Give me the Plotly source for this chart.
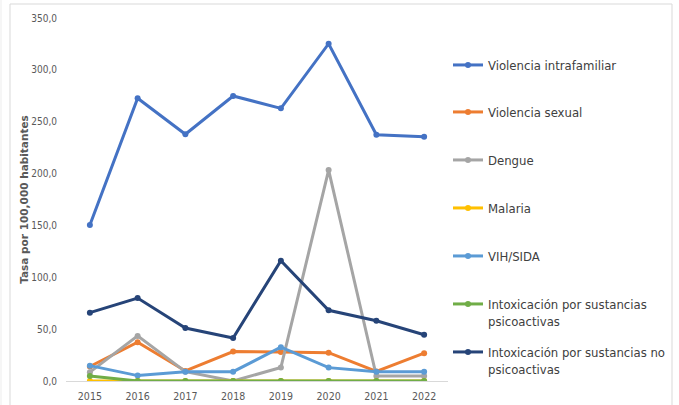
import plotly.graph_objects as go

years = ["2015", "2016", "2017", "2018", "2019", "2020", "2021", "2022"]

violencia_intrafamiliar = [150.4, 272.6, 237.9, 274.8, 262.9, 325.2, 237.5, 235.6]
violencia_sexual = [14.0, 37.4, 9.7, 28.4, 28.0, 27.3, 9.2, 26.8]
dengue = [8.5, 43.5, 9.0, 0.0, 13.0, 203.4, 4.8, 4.8]
malaria = [0.0, 0.0, 0.0, 0.0, 0.0, 0.0, 0.0, 0.0]
vih_sida = [14.8, 5.2, 9.0, 9.0, 32.6, 12.9, 9.0, 9.0]
intox_psicoactivas = [4.8, 0.0, 0.0, 0.0, 0.0, 0.0, 0.0, 0.0]
intox_no_psicoactivas = [65.9, 80.0, 51.1, 41.5, 116.0, 68.2, 58.1, 44.6]

series_names = [
    "Violencia intrafamiliar",
    "Violencia sexual",
    "Dengue",
    "Malaria",
    "VIH/SIDA",
    "Intoxicación por sustancias<br>psicoactivas",
    "Intoxicación por sustancias no<br>psicoactivas",
]
series_values = [
    violencia_intrafamiliar,
    violencia_sexual,
    dengue,
    malaria,
    vih_sida,
    intox_psicoactivas,
    intox_no_psicoactivas,
]
colors = ["#4472C4", "#ED7D31", "#A5A5A5", "#FFC000", "#5B9BD5", "#70AD47", "#264478"]

y_axis_title = "Tasa por 100,000 habitantes"
y_ticks = [0, 50, 100, 150, 200, 250, 300, 350]

W, H = 679, 405
legend_centers_px = [66, 113, 161, 209, 257, 305, 353]

FONT = "DejaVu Sans Condensed, Liberation Sans, Arial, sans-serif"

fig = go.Figure()
legend_ids = ["legend"] + [f"legend{i}" for i in range(2, 8)]
for name, vals, col, lid in zip(series_names, series_values, colors, legend_ids):
    fig.add_trace(go.Scatter(
        x=years, y=vals, name=name, mode="lines+markers",
        line=dict(color=col, width=3),
        marker=dict(color=col, size=6),
        legend=lid,
        hoverinfo="x+y+name",
    ))

legends = {}
for lid, cy in zip(legend_ids, legend_centers_px):
    legends[lid] = dict(
        xref="container", yref="container",
        x=448 / W, y=1 - (cy - 16) / H,
        xanchor="left", yanchor="top",
        valign="top",
        bgcolor="rgba(0,0,0,0)",
        borderwidth=0,
        font=dict(family=FONT, size=13, color="#404040"),
        itemwidth=30,
    )

left_px, right_px, top_px, bottom_px = 66, 448, 18, 381
pw, ph = right_px - left_px, bottom_px - top_px
def px_x(p):
    return (p - left_px) / pw
def px_y(p):
    return (bottom_px - p) / ph

fig.update_layout(
    width=W, height=H,
    margin=dict(l=left_px, r=W - right_px, t=top_px, b=H - bottom_px, autoexpand=False),
    paper_bgcolor="white", plot_bgcolor="white",
    separators=",.",
    showlegend=True,
    font=dict(family=FONT, color="#595959"),
    xaxis=dict(
        type="category", range=[-0.5, 7.5],
        showgrid=False, zeroline=False,
        showline=True, linecolor="#D9D9D9", linewidth=1,
        ticks="", ticklen=0, ticklabelstandoff=5,
        tickfont=dict(family=FONT, size=10.5, color="#595959"),
        fixedrange=True, automargin=False,
    ),
    yaxis=dict(
        range=[0, 350], tickvals=y_ticks, tickformat=".1f",
        showgrid=False, zeroline=False, showline=False,
        ticks="", ticklen=0, ticklabelstandoff=8,
        tickfont=dict(family=FONT, size=10, color="#595959"),
        title=dict(text="<b>" + y_axis_title + "</b>",
                   font=dict(family="DejaVu Sans, Verdana, sans-serif", size=10.5, color="#595959"),
                   standoff=0),
        automargin=False, fixedrange=True,
    ),
    shapes=[
        dict(type="rect", xref="paper", yref="paper",
             x0=px_x(10), x1=px_x(672), y0=px_y(420), y1=px_y(4),
             line=dict(color="#D9D9D9", width=1), layer="below"),
        dict(type="line", xref="paper", yref="paper",
             x0=px_x(1), x1=px_x(1), y0=px_y(420), y1=px_y(0),
             line=dict(color="#EDEDED", width=1), layer="below"),
    ],
    **legends,
)

fig.write_html("out.html", config={"displayModeBar": False},
               post_script="document.body.style.margin='0';document.body.style.overflow='hidden';")
